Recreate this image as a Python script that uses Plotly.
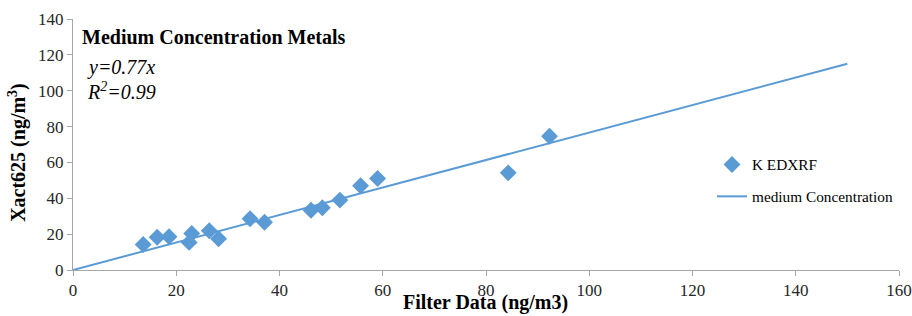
import plotly.graph_objects as go

filter_x = [13.6, 16.3, 18.6, 22.5, 23.0, 26.4, 28.2, 34.3, 37.1, 46.1, 48.3, 51.7, 55.7, 59.0, 84.3, 92.3]
xact_y = [14.2, 18.3, 18.6, 15.4, 20.4, 21.9, 17.4, 28.6, 26.6, 33.3, 34.7, 39.0, 47.0, 51.0, 54.2, 74.6]
fit_x = [0, 150]
fit_y = [0, 115]

color = "#5B9BD5"
font_family = "Liberation Serif, Times New Roman, serif"

fig = go.Figure()
fig.add_trace(go.Scatter(x=filter_x, y=xact_y, mode="markers", name="K EDXRF", legendgroup="a",
                         marker=dict(symbol="diamond", size=13, color=color)))
fig.add_trace(go.Scatter(x=fit_x, y=fit_y, mode="lines", name="medium Concentration", legendgroup="b",
                         line=dict(color=color, width=2)))

axis_common = dict(showgrid=False, zeroline=False, showline=True, linecolor="#A6A6A6", linewidth=1,
                   ticks="outside", ticklen=5, tickcolor="#A6A6A6", automargin=False,
                   tickfont=dict(family=font_family, size=17, color="#262626"))

fig.update_layout(
    width=912, height=316, autosize=False,
    margin=dict(l=73, r=13, t=19, b=46),
    paper_bgcolor="white", plot_bgcolor="white",
    font=dict(family=font_family, color="black"),
    xaxis=dict(range=[0, 160], dtick=20, **axis_common),
    yaxis=dict(range=[0, 140], dtick=20, **axis_common),
    legend=dict(x=0.7736, y=0.486, xanchor="left", yanchor="top",
                bgcolor="rgba(0,0,0,0)", traceorder="grouped", tracegroupgap=9,
                font=dict(family=font_family, size=15.3, color="black")),
    showlegend=True,
)

# axis titles
fig.add_annotation(xref="paper", yref="paper", x=0.499, y=-0.131, xanchor="center", yanchor="middle",
                   text="<b>Filter Data (ng/m3)</b>", showarrow=False,
                   font=dict(family=font_family, size=20, color="black"))
fig.add_annotation(xref="paper", yref="paper", x=-0.068, y=0.47, xanchor="center", yanchor="middle",
                   textangle=-90, text="<b>Xact625 (ng/m<sup>3</sup>)</b>", showarrow=False,
                   font=dict(family=font_family, size=20, color="black"))

fig.add_annotation(xref="paper", yref="paper", x=0.008, y=0.928, xanchor="left", yanchor="middle",
                   text="<b>Medium Concentration Metals</b>", showarrow=False,
                   font=dict(family=font_family, size=20, color="black"))
fig.add_annotation(xref="paper", yref="paper", x=0.014, y=0.805, xanchor="left", yanchor="middle",
                   text="<i>y=0.77x</i>", showarrow=False,
                   font=dict(family=font_family, size=20, color="black"))
fig.add_annotation(xref="paper", yref="paper", x=0.014, y=0.715, xanchor="left", yanchor="middle",
                   text="<i>R<sup>2</sup>=0.99</i>", showarrow=False,
                   font=dict(family=font_family, size=20, color="black"))

fig.write_html("out.html",
               config={"displayModeBar": False, "responsive": False},
               post_script="document.body.style.margin='0';document.body.style.overflow='hidden';")
